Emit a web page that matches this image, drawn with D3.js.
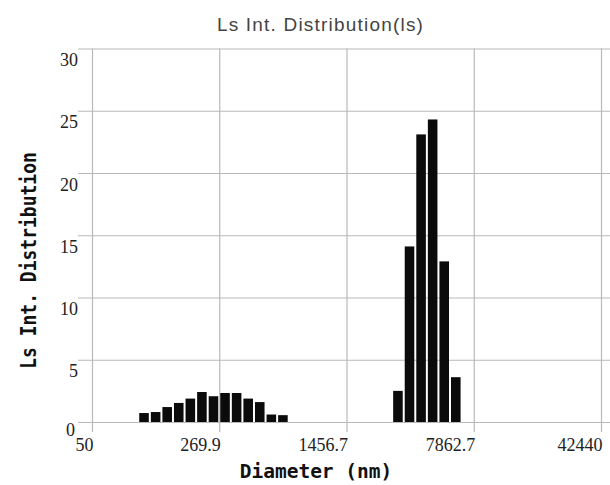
<!DOCTYPE html>
<html lang="en">
<head>
    <meta charset="UTF-8">
    <title>Ls Int. Distribution</title>
    <script src="https://d3js.org/d3.v7.min.js"></script>
    <style>
        body { margin: 0; background: #fff; }
        .grid line { stroke: #b9b9b9; stroke-width: 1.2; }
        .tick text { font-family: "Liberation Serif", "DejaVu Serif", serif; font-size: 18px; fill: #222; }
        .bar { fill: #0b0b0b; }
        .axis-title { font-family: "DejaVu Sans Mono", monospace; font-weight: bold; fill: #111; }
    </style>
</head>
<body>
    <div id="chart"></div>
    <script>
        // bin centres (nm) and intensity values
        const diameters = [99.6, 116.2, 135.4, 157.8, 184.0, 214.5, 250.0, 291.4, 339.7, 396.0, 461.6, 538.1, 627.3,
                           2880, 3357, 3913, 4561, 5317, 6198];
        const values = [0.72, 0.8, 1.2, 1.53, 1.88, 2.41, 2.07, 2.33, 2.33, 1.88, 1.6, 0.6, 0.55,
                        2.5, 14.1, 23.1, 24.3, 12.9, 3.6];
        const xTicks = [50, 269.9, 1456.7, 7862.7, 42440];
        const yTicks = [0, 5, 10, 15, 20, 25, 30];
        const binRatio = 1.1657; // width of one size bin (log step)

        const data = diameters.map((d, i) => ({diam: d, value: values[i]}));

        const margin = {top: 48.5, right: 9, bottom: 63, left: 92},
              width = 610 - margin.left - margin.right,
              height = 485 - margin.top - margin.bottom;

        const x = d3.scaleLog().domain([50, 42440]).range([0, width]);
        const y = d3.scaleLinear().domain([0, 30]).range([height, 0]);

        const svg = d3.select("#chart").append("svg")
                      .attr("width", 610)
                      .attr("height", 485)
                    .append("g")
                      .attr("transform", "translate(" + margin.left + "," + margin.top + ")");

        // horizontal grid + y labels
        const yAxis = svg.append("g")
            .attr("class", "grid")
            .attr("transform", "translate(-14,0)")
            .call(d3.axisRight(y).tickValues(yTicks).tickSize(width + 14 + margin.right).tickFormat(d3.format("d")));
        yAxis.select(".domain").remove();
        yAxis.selectAll(".tick text")
            .attr("x", d => d === 0 ? -3 : 0)
            .attr("dy", null)
            .attr("y", d => d === 0 ? 13 : 17)
            .attr("text-anchor", "end");

        // vertical grid + x labels
        const xAxis = svg.append("g")
            .attr("class", "grid")
            .attr("transform", "translate(0," + (height + 10) + ")")
            .call(d3.axisBottom(x).tickValues(xTicks).tickSize(-(height + 10)).tickFormat(d => String(d)));
        xAxis.select(".domain").remove();
        xAxis.selectAll(".tick text")
            .attr("x", 1)
            .attr("dy", null)
            .attr("y", 19)
            .attr("text-anchor", "end");

        // bars
        const half = Math.sqrt(binRatio);
        svg.selectAll(".bar")
            .data(data)
          .enter().append("rect")
            .attr("class", "bar")
            .attr("x", d => x(d.diam / half) + 1)
            .attr("width", d => x(d.diam * half) - x(d.diam / half) - 2)
            .attr("y", d => y(d.value))
            .attr("height", d => height - y(d.value));

        // title
        svg.append("text")
            .attr("x", 320.5 - margin.left)
            .attr("y", 31 - margin.top)
            .attr("text-anchor", "middle")
            .style("font-family", "'Liberation Sans', Arial, sans-serif")
            .style("font-size", "19px")
            .style("letter-spacing", "1.2px")
            .style("fill", "#444")
            .text("Ls Int. Distribution(ls)");

        // x axis title
        svg.append("text")
            .attr("class", "axis-title")
            .attr("x", 316 - margin.left)
            .attr("y", 478 - margin.top)
            .attr("text-anchor", "middle")
            .style("font-size", "19.5px")
            .text("Diameter (nm)");

        // y axis title
        svg.append("text")
            .attr("class", "axis-title")
            .attr("transform", "translate(" + (36 - margin.left) + "," + (260.5 - margin.top) + ") rotate(-90) scale(1,1.2)")
            .attr("text-anchor", "middle")
            .style("font-size", "18px")
            .text("Ls Int. Distribution");
    </script>
</body>
</html>
